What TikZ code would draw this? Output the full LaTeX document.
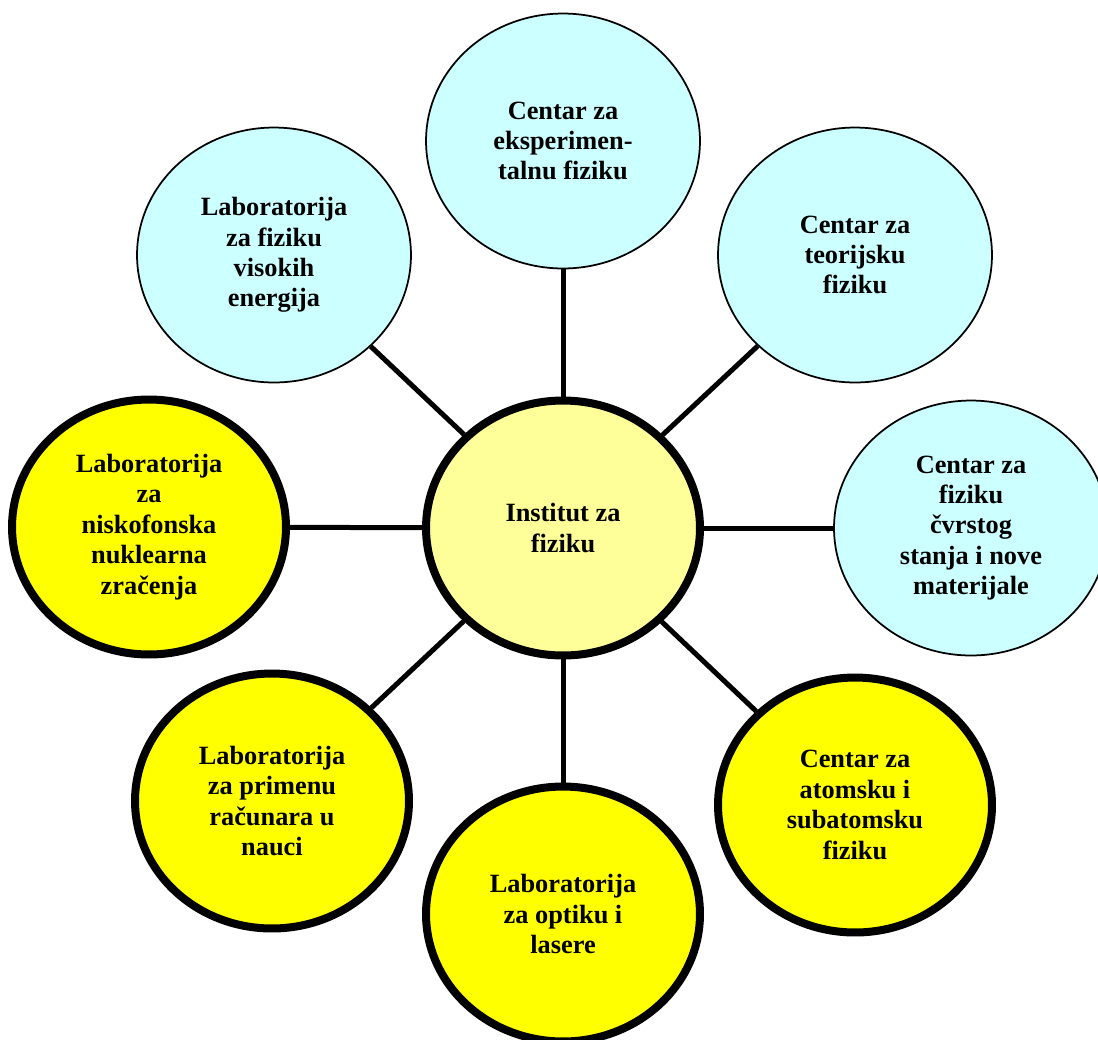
\documentclass[tikz,border=0pt]{standalone}
\usepackage{fontspec}
\setmainfont{Liberation Serif}
\usetikzlibrary{shapes.geometric}
\definecolor{cyanfill}{HTML}{CCFFFF}
\definecolor{paleyellow}{HTML}{FFFF99}
\definecolor{strongyellow}{HTML}{FFFF00}
\tikzset{
  unit/.style={ellipse, minimum width=5.48cm, minimum height=5.1cm, inner sep=0pt,
    align=center, font=\fontsize{15}{17.3}\selectfont\bfseries},
  thinbox/.style={unit, draw=black, line width=0.035cm, fill=cyanfill},
  thickbox/.style={unit, draw=black, line width=0.16cm, fill=strongyellow},
  hubbox/.style={unit, draw=black, line width=0.16cm, fill=paleyellow},
  conn/.style={draw=black, line width=0.1cm}
}
\begin{document}
\begin{tikzpicture}[x=0.02cm, y=-0.02cm]
\useasboundingbox (0,0) rectangle (1098,1039);
\clip (0,0) rectangle (1098,1039);
\node[hubbox] (c) at (563,528) {Institut za\\fiziku};
\node[thinbox] (t) at (563,141) {Centar za\\eksperimen-\\talnu fiziku};
\node[thinbox] (tl) at (274,255) {Laboratorija\\za fiziku\\visokih\\energija};
\node[thinbox] (tr) at (855,255) {Centar za\\teorijsku\\fiziku};
\node[thinbox] (r) at (971,528) {Centar za\\fiziku\\čvrstog\\stanja i nove\\materijale};
\node[thickbox] (l) at (149,527) {Laboratorija\\za\\niskofonska\\nuklearna\\zračenja};
\node[thickbox] (bl) at (272,801) {Laboratorija\\za primenu\\računara u\\nauci};
\node[thickbox] (b) at (563,914) {Laboratorija\\za optiku i\\lasere};
\node[thickbox] (br) at (855,805) {Centar za\\atomsku i\\subatomsku\\fiziku};
\foreach \n in {t,tl,tr,r,l,bl,b,br}{
  \draw[conn] (c) -- (\n);
}
\end{tikzpicture}
\end{document}
